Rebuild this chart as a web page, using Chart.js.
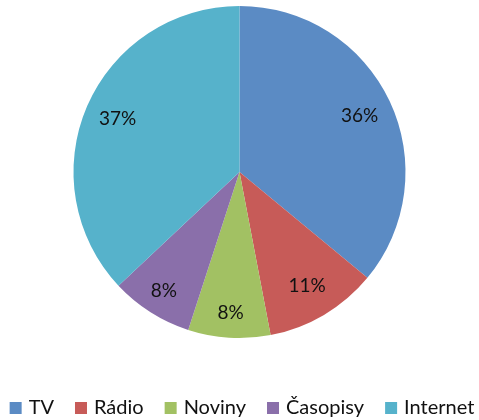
<!DOCTYPE html>
<html>
<head>
<meta charset="utf-8">
<script src="https://cdn.jsdelivr.net/npm/chart.js@4/dist/chart.umd.min.js"></script>
<style>
html,body{margin:0;padding:0;background:#fff;}
#wrap{width:479px;height:420px;position:relative;}
</style>
</head>
<body>
<div id="wrap"><canvas id="c" width="479" height="420"></canvas></div>
<script>
const categories = ["TV", "Rádio", "Noviny", "Časopisy", "Internet"];
const values = [36, 11, 8, 8, 37];
const sliceColors = ["#5B8BC4", "#C75B58", "#A2C163", "#8A6FAA", "#56B2CB"];

const labelPlugin = {
  id: 'sliceLabels',
  afterDatasetsDraw(chart) {
    const ctx = chart.ctx;
    const meta = chart.getDatasetMeta(0);
    const total = values.reduce((a, b) => a + b, 0);
    ctx.save();
    ctx.font = '19px Lato';
    ctx.fillStyle = '#111';
    ctx.textAlign = 'center';
    ctx.textBaseline = 'middle';
    meta.data.forEach((arc, i) => {
      const p = arc.getProps(['x', 'y', 'startAngle', 'endAngle', 'outerRadius'], true);
      const mid = (p.startAngle + p.endAngle) / 2;
      const share = values[i] / total;
      const f = share < 0.1 ? 0.85 : 0.8;
      const r = p.outerRadius * f;
      const x = p.x + Math.cos(mid) * r;
      const y = p.y + Math.sin(mid) * r;
      ctx.fillText(Math.round(share * 100) + '%', x, y);
    });
    ctx.restore();
  }
};

const legendPlugin = {
  id: 'customLegend',
  afterDraw(chart) {
    const ctx = chart.ctx;
    const meta = chart.getDatasetMeta(0);
    ctx.save();
    ctx.font = '20px Lato';
    ctx.textBaseline = 'middle';
    ctx.textAlign = 'left';
    const box = 12, gapBoxText = 7, gapItem = 21;
    const widths = categories.map(c => ctx.measureText(c).width);
    let total = 0;
    widths.forEach((w, i) => { total += box + gapBoxText + w + (i < widths.length - 1 ? gapItem : 0); });
    let x = 242 - total / 2;
    const cy = 408;
    categories.forEach((c, i) => {
      ctx.fillStyle = meta.data[i].options.backgroundColor;
      ctx.fillRect(x, cy - 6, box, box);
      ctx.fillStyle = '#111';
      ctx.fillText(c, x + box + gapBoxText, cy);
      x += box + gapBoxText + widths[i] + gapItem;
    });
    ctx.restore();
  }
};

new Chart(document.getElementById('c'), {
  type: 'pie',
  data: {
    labels: categories,
    datasets: [{
      data: values,
      backgroundColor: sliceColors,
      borderWidth: 0
    }]
  },
  options: {
    responsive: false,
    animation: false,
    layout: { padding: { top: 6, bottom: 82, left: 0, right: 0 } },
    plugins: {
      tooltip: { enabled: false },
      legend: { display: false }
    }
  },
  plugins: [labelPlugin, legendPlugin]
});
</script>
</body>
</html>
